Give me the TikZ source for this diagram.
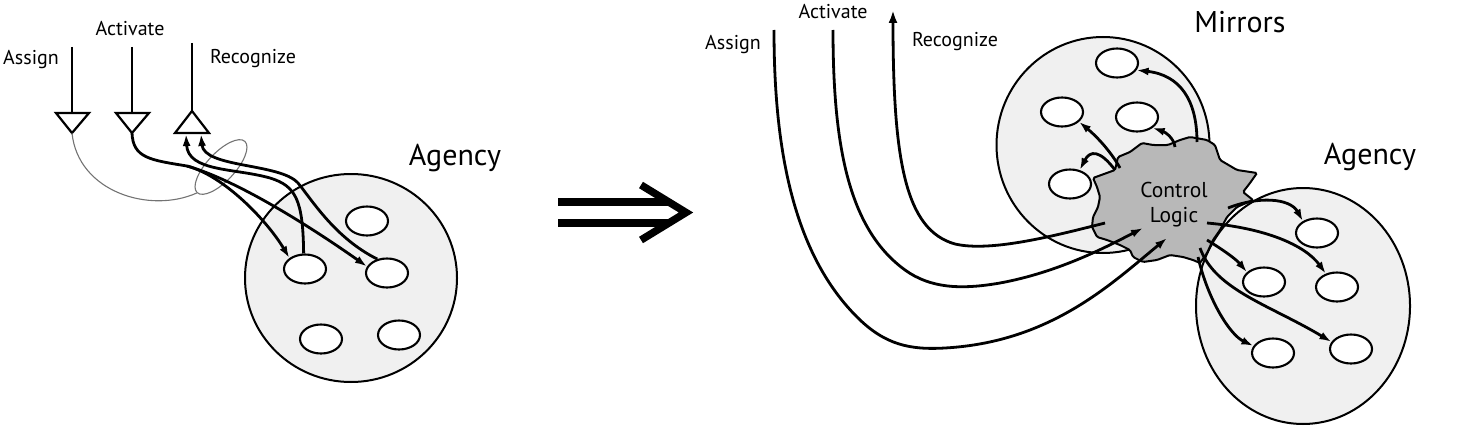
\documentclass[tikz,border=0pt]{standalone}
\usepackage{fontspec}
\setmainfont{PT Sans}
\usetikzlibrary{arrows.meta,shapes.geometric}

\begin{document}
\begin{tikzpicture}[x=1pt,y=-1pt,
  pool/.style={ellipse,draw,line width=2pt,fill=black!6,inner sep=0pt},
  unit/.style={ellipse,draw,line width=2.1pt,fill=white,minimum width=42pt,minimum height=29pt,inner sep=0pt},
  wire/.style={line width=2.8pt},
  link/.style={wire,-{Latex[length=12pt,width=8pt]}},
  port/.style={draw,line width=2.2pt,fill=white,line join=miter},
  lbl/.style={font=\fontsize{20}{24}\selectfont},
  big/.style={font=\fontsize{30}{34}\selectfont}]
\useasboundingbox (0,0) rectangle (1479,444);

% left: one agency with its three ports
\begin{scope}
\node[pool,minimum width=212pt,minimum height=208pt] (agL) at (351,278) {};
\node[unit] (e1) at (305,269) {};
\node[unit] (e2) at (387,273) {};
\node[unit] (e3) at (367,221) {};
\node[unit] (e4) at (321,339) {};
\node[unit] (e5) at (399,335) {};
\node[big] (agLtxt) at (455,158) {Agency};

\draw[wire] (72,47) -- (72,113);
\draw[wire] (132,47) -- (132,113);
\draw[wire] (192,43) -- (192,111);
\draw[port] (56,113) -- (89,113) -- (72,133) -- cycle;
\draw[port] (116,113) -- (149,113) -- (132,133) -- cycle;
\draw[port] (175,133) -- (209,133) -- (192,111) -- cycle;
\coordinate (asg) at (72,133);
\coordinate (act) at (132,133);
\coordinate (recL) at (186,134);
\coordinate (recR) at (201,134);
\node[lbl] (asgtxt) at (31,60) {Assign};
\node[lbl] (acttxt) at (130,29) {Activate};
\node[lbl] (rectxt) at (253,59) {Recognize};

\node[ellipse,draw=black!55,line width=1.1pt,rotate=47,minimum width=70pt,minimum height=28pt] (bundle) at (221,167) {};
\draw[black!55,line width=1.1pt] (asg) .. controls (78,192) and (150,214) .. (bundle.west);

\draw[wire] (act) .. controls (133,158) and (150,160) .. (187,166) coordinate (fork);
\draw[link] (fork) .. controls (225,176) and (268,222) .. (e1.145);
\draw[link] (fork) .. controls (240,181) and (318,232) .. (e2.162);
\draw[link] (e1.95) .. controls (303,200) and (296,186) .. (270,178) .. controls (235,168) and (188,172) .. (recL);
\draw[link] (e2.125) .. controls (335,238) and (312,200) .. (298,183) .. controls (280,163) and (204,168) .. (recR);
\end{scope}

% the big arrow
\draw[line width=7.5pt] (558,202) -- (669,202);
\draw[line width=7.5pt] (558,223) -- (669,223);
\draw[line width=7.5pt,line join=miter] (641,185) -- (686,212.5) -- (641,240);

% right: control logic between mirrors and agency
\begin{scope}
\node[pool,minimum width=213pt,minimum height=216pt] (mirr) at (1103,145) {};
\node[pool,minimum width=214pt,minimum height=236pt] (agR) at (1303,306) {};
\node[big] (mirrtxt) at (1240,22) {Mirrors};
\node[big] (agRtxt) at (1370,157) {Agency};
\node[unit] (m1) at (1117,63) {};
\node[unit] (m2) at (1062,112) {};
\node[unit] (m3) at (1137,117) {};
\node[unit] (m4) at (1070,184) {};
\node[unit] (a1) at (1317,233) {};
\node[unit] (a2) at (1264,282) {};
\node[unit] (a3) at (1337,287) {};
\node[unit] (a4) at (1273,353) {};
\node[unit] (a5) at (1351,349) {};

\draw[line width=2pt,fill=black!28,rounded corners=1.5pt]
  (1093,178) -- (1115,170) -- (1118,157) -- (1130,152) -- (1142,143) -- (1153,145)
  -- (1168,145) -- (1180,140) -- (1190,137) -- (1207,140) -- (1215,145) -- (1220,160)
  -- (1237,170) -- (1257,173) -- (1250,183) -- (1243,192) -- (1253,200) -- (1237,207)
  -- (1227,217) -- (1220,230) -- (1213,240) -- (1207,253) -- (1200,263) -- (1193,260)
  -- (1183,257) -- (1170,255) -- (1157,260) -- (1143,262) -- (1133,257) -- (1130,250)
  -- (1120,245) -- (1107,240) -- (1097,237) -- (1092,227) -- (1093,217) -- (1098,207)
  -- (1100,197) -- (1097,187) -- cycle;
\node[font=\fontsize{21.5}{25}\selectfont,align=center] (ctl) at (1174,205) {Control\\Logic};

\coordinate (asgR) at (774,30);
\coordinate (actR) at (833,30);
\coordinate (recTop) at (893,10);
\coordinate (cin1) at (1167,238);
\coordinate (cin2) at (1143,228);
\coordinate (cout) at (1105,223);
\node[lbl] (asgRtxt) at (733,45) {Assign};
\node[lbl] (actRtxt) at (833,12) {Activate};
\node[lbl] (recRtxt) at (955,42) {Recognize};

\draw[link] (asgR) .. controls (774,140) and (790,250) .. (857,317) .. controls (885,345) and (910,350) .. (945,348) .. controls (1050,342) and (1110,285) .. (cin1);
\draw[link] (actR) .. controls (833,150) and (850,230) .. (905,270) .. controls (930,288) and (960,290) .. (1000,283) .. controls (1060,272) and (1110,245) .. (cin2);
\draw[link,-{Latex[length=13pt,width=9pt]}] (cout) .. controls (1050,237) and (990,252) .. (955,244) .. controls (905,230) and (893,160) .. (recTop);

\coordinate (o1) at (1197,142);
\coordinate (o2) at (1120,168);
\coordinate (o3) at (1175,147);
\coordinate (o4) at (1115,170);
\draw[link] (o1) .. controls (1197,100) and (1180,75) .. (m1.-20);
\draw[link] (o2) .. controls (1110,150) and (1095,135) .. (m2.-30);
\draw[link] (o3) .. controls (1174,138) and (1165,132) .. (m3.-35);
\draw[link] (o4) .. controls (1100,150) and (1090,150) .. (m4.55);

\coordinate (p1) at (1228,208);
\coordinate (p2) at (1207,240);
\coordinate (p3) at (1207,223);
\coordinate (p4) at (1198,257);
\coordinate (p5) at (1200,248);
\draw[link] (p1) .. controls (1258,196) and (1290,198) .. (a1.140);
\draw[link] (p2) .. controls (1220,248) and (1235,258) .. (a2.150);
\draw[link] (p3) .. controls (1265,228) and (1305,245) .. (a3.130);
\draw[link] (p4) .. controls (1208,300) and (1230,335) .. (a4.160);
\draw[link] (p5) .. controls (1215,290) and (1270,305) .. (a5.160);
\end{scope}
\end{tikzpicture}
\end{document}
